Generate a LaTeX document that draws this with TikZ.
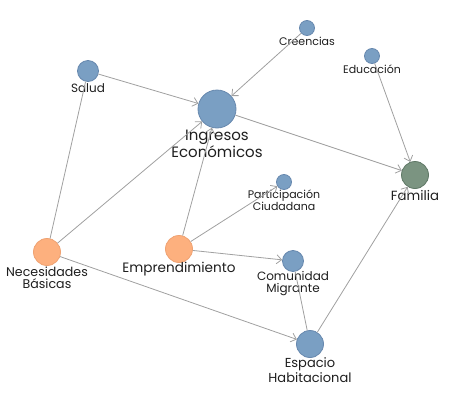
\documentclass[tikz,border=0pt]{standalone}
\usepackage{fontspec}
\setmainfont{Poppins}
\usetikzlibrary{arrows.meta}

\definecolor{nodeblue}{HTML}{7A9FC3}
\definecolor{nodeblueedge}{HTML}{6788AE}
\definecolor{nodeorange}{HTML}{FDB07E}
\definecolor{nodeorangeedge}{HTML}{EFA272}
\definecolor{nodegreen}{HTML}{7B9481}
\definecolor{nodegreenedge}{HTML}{5E7765}
\definecolor{edgegray}{HTML}{A0A0A0}
\definecolor{labelgray}{HTML}{1E1E1E}

\tikzset{
	concept/.style={circle, draw=nodeblueedge, fill=nodeblue, line width=0.8pt,
		inner sep=0pt, minimum size=#1},
	need/.style={concept=#1, draw=nodeorangeedge, fill=nodeorange},
	family/.style={concept=#1, draw=nodegreenedge, fill=nodegreen},
	tagsmall/.style={text=labelgray, inner sep=0pt, align=center,
		font=\fontsize{11}{12}\selectfont},
	tagmid/.style={tagsmall, font=\fontsize{13}{12.5}\selectfont},
	tagbig/.style={tagsmall, font=\fontsize{15}{15}\selectfont},
	link/.style={draw=edgegray, line width=0.8pt},
	arrowlink/.style={link, -{Straight Barb[length=5pt,width=9pt]}}
}

\begin{document}
\begin{tikzpicture}[x=1pt, y=-1pt]
	\useasboundingbox (0,0) rectangle (475,402);
	% concepts
	\node[concept=21pt] (salud) at (88,71) {};
	\node[concept=38pt] (ingresos) at (217,109) {};
	\node[concept=15pt] (creencias) at (307,28) {};
	\node[concept=15pt] (educacion) at (372,56) {};
	\node[family=27pt] (familia) at (415,175) {};
	\node[concept=15pt] (participacion) at (284,182) {};
	\node[need=27pt] (necesidades) at (47,252) {};
	\node[need=27pt] (emprendimiento) at (179,249) {};
	\node[concept=21pt] (comunidad) at (293,261) {};
	\node[concept=27pt] (espacio) at (310,344) {};

	% labels
	\node[tagsmall, font=\fontsize{12}{12}\selectfont] (salud-text) at (88,88) {Salud};
	\node[tagbig] (ingresos-text) at (217,144) {Ingresos\\Económicos};
	\node[tagsmall] (creencias-text) at (307,41) {Creencias};
	\node[tagsmall] (educacion-text) at (372,69) {Educación};
	\node[tagmid, font=\fontsize{13.3}{12.5}\selectfont] (familia-text) at (415,195) {Familia};
	\node[tagsmall] (participacion-text) at (284,200) {Participación\\Ciudadana};
	\node[tagmid, font=\fontsize{12.6}{12.5}\selectfont] (necesidades-text) at (47,278) {Necesidades\\Básicas};
	\node[tagmid, font=\fontsize{13.6}{12.5}\selectfont] (emprendimiento-text) at (179,269) {Emprendimiento};
	\node[tagmid, font=\fontsize{12}{12}\selectfont] (comunidad-text) at (293,284) {Comunidad\\Migrante};
	\node[tagmid] (espacio-text) at (310,370) {Espacio\\Habitacional};

	% links
	\foreach \from/\to in {salud/ingresos, creencias/ingresos, ingresos/familia,
		educacion/familia, espacio/familia, necesidades/ingresos, necesidades/espacio,
		emprendimiento/ingresos, emprendimiento/participacion, emprendimiento/comunidad}
		\draw[arrowlink] (\from) -- (\to);
	\draw[link] (necesidades) -- (salud);
	\draw[link] (espacio) -- (comunidad);
\end{tikzpicture}
\end{document}
